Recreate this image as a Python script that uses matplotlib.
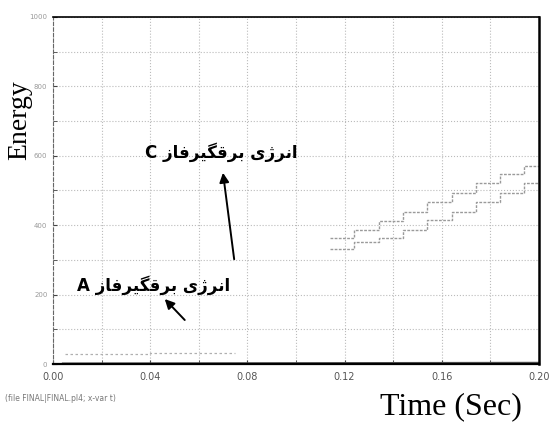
import numpy as np
import matplotlib.pyplot as plt

# step curves (time in s, energy)
t_steps = [0.114, 0.124, 0.134, 0.144, 0.154, 0.164, 0.174, 0.184, 0.194, 0.200]
energy_upper = [363, 386, 412, 438, 467, 493, 521, 547, 571, 571]
energy_lower = [330, 352, 363, 386, 415, 438, 467, 493, 521, 521]

t_a = [0.005, 0.040, 0.060, 0.075]
energy_a = [30, 31, 31, 32]

t_base = [0.004, 0.200]
energy_base = [2, 4]

x_ticks = [0.00, 0.04, 0.08, 0.12, 0.16, 0.20]
x_ticklabels = ["0.00", "0.04", "0.08", "0.12", "0.16", "0.20"]
y_ticks = [0, 200, 400, 600, 800, 1000]

label_c = "انرژی برقگیرفاز C"
label_a = "انرژی برقگیرفاز A"

# isolated, final, initial, medial presentation forms
FORMS = {
    "ا": ("\uFE8D", "\uFE8E", None, None),
    "ن": ("\uFEE5", "\uFEE6", "\uFEE7", "\uFEE8"),
    "ر": ("\uFEAD", "\uFEAE", None, None),
    "ژ": ("\uFB8A", "\uFB8B", None, None),
    "ی": ("\uFBFC", "\uFBFD", "\uFBFE", "\uFBFF"),
    "ب": ("\uFE8F", "\uFE90", "\uFE91", "\uFE92"),
    "ق": ("\uFED5", "\uFED6", "\uFED7", "\uFED8"),
    "گ": ("\uFB92", "\uFB93", "\uFB94", "\uFB95"),
    "ف": ("\uFED1", "\uFED2", "\uFED3", "\uFED4"),
    "ز": ("\uFEAF", "\uFEB0", None, None),
}


def shape_rtl(text):
    """Very small Persian shaper: pick joined forms, then reverse for display."""
    out = []
    for i, ch in enumerate(text):
        if ch not in FORMS:
            out.append(ch)
            continue
        prev = text[i - 1] if i > 0 else ""
        nxt = text[i + 1] if i + 1 < len(text) else ""
        join_prev = prev in FORMS and FORMS[prev][2] is not None
        join_next = nxt in FORMS and FORMS[ch][2] is not None
        iso, fin, ini, med = FORMS[ch]
        if join_prev and join_next:
            out.append(med)
        elif join_prev:
            out.append(fin)
        elif join_next:
            out.append(ini)
        else:
            out.append(iso)
    words = "".join(out).split(" ")
    persian = " ".join(words[:-1])
    return words[-1] + " " + persian[::-1]


fig = plt.figure(figsize=(5.49, 4.23), dpi=100)
ax = fig.add_axes([53 / 549, 1 - 364 / 423, 486 / 549, 347 / 423])

ax.step(t_steps, energy_upper, where="post", color="#9a9a9a", lw=1.0, ls=(0, (2, 1)))
ax.step(t_steps, energy_lower, where="post", color="#9a9a9a", lw=1.0, ls=(0, (2, 1)))
ax.step(t_a, energy_a, where="post", color="#b0b0b0", lw=0.9, ls=(0, (2, 2)))
ax.plot(t_base, energy_base, color="#555555", lw=1.2)

ax.set_xlim(0, 0.2)
ax.set_ylim(0, 1000)
ax.set_xticks(x_ticks)
ax.set_xticklabels(x_ticklabels)
ax.set_xticks(np.arange(0, 0.2001, 0.02), minor=True)
ax.set_yticks(y_ticks)
ax.set_yticks(np.arange(0, 1001, 100), minor=True)
ax.grid(which="both", color="#bbbbbb", ls=":", lw=0.8)
ax.tick_params(which="both", direction="in", length=3, color="#444444")
ax.tick_params(axis="x", labelsize=7, labelcolor="#555555", pad=6)
ax.tick_params(axis="y", labelsize=5, labelcolor="#999999", pad=4)

ax.spines["left"].set_linestyle((0, (3, 2)))
ax.spines["left"].set_color("#666666")
ax.spines["bottom"].set_linewidth(1.6)
ax.spines["right"].set_linewidth(1.8)
ax.spines["top"].set_linewidth(1.2)

serif = ["Liberation Serif", "DejaVu Serif"]
ar_font = ["DejaVu Sans"]

ax.text(0.0694, 611, shape_rtl(label_c), ha="center", va="center",
        fontsize=12, fontweight="bold", family=ar_font)
ax.text(0.0415, 228, shape_rtl(label_a), ha="center", va="center",
        fontsize=12, fontweight="bold", family=ar_font)

ax.annotate("", xy=(0.0698, 559), xytext=(0.0747, 294),
            arrowprops=dict(arrowstyle="-|>", color="black", lw=1.4, mutation_scale=14))
ax.annotate("", xy=(0.0452, 193), xytext=(0.0550, 121),
            arrowprops=dict(arrowstyle="-|>", color="black", lw=1.4, mutation_scale=14))

fig.text(20 / 549, 1 - 120 / 423, "Energy", rotation=90, ha="center", va="center",
         fontsize=20, family=serif)
fig.text(451 / 549, 1 - 407 / 423, "Time (Sec)", ha="center", va="center",
         fontsize=23, family=serif)
fig.text(5 / 549, 1 - 398 / 423, "(file FINAL|FINAL.pl4; x-var t)", ha="left", va="center",
         fontsize=5.5, color="#777777")

fig.savefig("out.png", dpi=100)
